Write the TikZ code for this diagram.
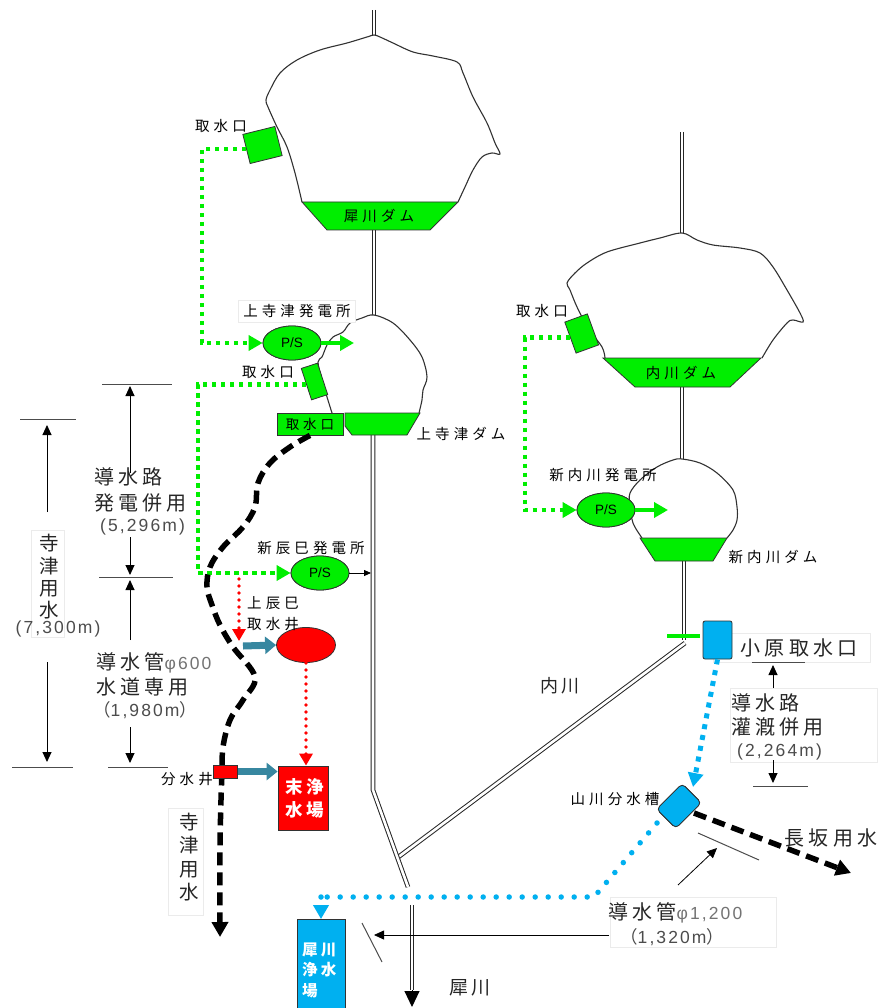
\documentclass[tikz,border=0pt]{standalone}
\usepackage{fontspec}
\usetikzlibrary{arrows.meta,shapes.geometric}
\newfontfamily\jps[LetterSpace=28]{Noto Sans CJK JP}
\newfontfamily\jpl[LetterSpace=21]{Noto Sans CJK JP}
\newfontfamily\jpp{Noto Sans CJK JP}
\newfontfamily\numf[LetterSpace=12]{Liberation Sans}
\newfontfamily\psf{Liberation Sans}
\definecolor{damgreen}{RGB}{0,238,0}
\definecolor{pipeblue}{RGB}{0,176,240}
\definecolor{feedteal}{RGB}{55,135,160}
\definecolor{inkgray}{RGB}{50,50,50}
\begin{document}
\begin{tikzpicture}[x=1pt,y=-1pt,
  river/.style={draw=black!85,line width=1pt,double=white,double distance=2.6pt},
  blob/.style={draw=inkgray,line width=1.1pt,fill=white},
  dam/.style={draw=inkgray,line width=0.8pt,fill=damgreen},
  intake/.style={draw=inkgray,line width=0.8pt,fill=damgreen,inner sep=0pt},
  station/.style={ellipse,draw=inkgray,line width=0.8pt,fill=damgreen,minimum width=58pt,minimum height=34pt,inner sep=0pt,font=\psf\fontsize{13.5}{15}\selectfont},
  gdot/.style={draw=damgreen,line width=4.5pt,dash pattern=on 4.5pt off 4.5pt},
  gtip/.style={-{Triangle[width=15pt,length=14pt,sharp]}},
  gout/.style={draw=damgreen,line width=4pt,-{Triangle[width=15pt,length=14pt]}},
  rdot/.style={draw=red,line width=3.8pt,dash pattern=on 0pt off 7pt,line cap=round},
  rtip/.style={-{Triangle[width=13pt,length=12pt,sharp]}},
  bdash/.style={draw=pipeblue,line width=5pt,dash pattern=on 5pt off 6pt},
  bdot/.style={draw=pipeblue,line width=5.5pt,dash pattern=on 0pt off 13pt,line cap=round},
  btip/.style={-{Triangle[width=15pt,length=14pt,sharp]}},
  kdash/.style={draw=black,line width=5.5pt,dash pattern=on 13pt off 7pt},
  ktip/.style={-{Triangle[width=16pt,length=15pt]}},
  dimarrow/.style={draw=black,line width=0.9pt,-{Triangle[width=9pt,length=10pt]}},
  dimtick/.style={draw=black!70,line width=1pt},
  feed/.style={draw=feedteal,line width=7pt,-{Triangle[width=17pt,length=11pt]}},
  txtframe/.style={draw=black!8,line width=0.6pt,fill=white},
  ts/.style={font=\jps\fontsize{14.5}{16}\selectfont,inner sep=0pt},
  tl/.style={font=\jpl\fontsize{20}{24}\selectfont,inner sep=0pt,text=black!85},
  tn/.style={font=\numf\fontsize{17.5}{20}\selectfont,inner sep=0pt,text=black!70},
  boxtxt/.style={font=\jpl\bfseries\fontsize{16}{21}\selectfont,text=white,inner sep=0pt,align=left},
]
\useasboundingbox[fill=white] (0,0) rectangle (877,1008);

% ---------- faint text frames ----------
\draw[txtframe] (31,530) rectangle (64,637);
\draw[txtframe] (168,808) rectangle (203,915);
\draw[txtframe] (713,633) rectangle (870,662);
\draw[txtframe] (730,688) rectangle (877,762);
\draw[txtframe] (610,897) rectangle (776,947);

% ---------- Saigawa main river ----------
\coordinate (sTop) at (374,10);
\coordinate (sRes1) at (374,35);
\coordinate (sDam1) at (374,230);
\coordinate (sRes2) at (374,315);
\coordinate (sDam2) at (373,435);
\coordinate (sBend) at (373,790);
\coordinate (sLow) at (408,887);
\coordinate (sLow2) at (412,905);
\coordinate (sLow3) at (412,990);
\coordinate (sEnd) at (412,1007);

% ---------- Uchikawa river ----------
\coordinate (uTop) at (682,132);
\coordinate (uRes3) at (682,233);
\coordinate (uDam3) at (682,387);
\coordinate (uRes4) at (682,459);
\coordinate (uDam4) at (684,561);
\coordinate (uWeir) at (684,640);
\coordinate (uSlant) at (685,643);
\coordinate (uJoin) at (397,858);
\coordinate (weirL) at (667,636);
\coordinate (weirR) at (700,636);

\draw[river] (uSlant) -- (uJoin);
\draw[river] (sTop) -- (sRes1);
\draw[river] (sDam1) -- (sRes2);
\draw[river] (sDam2) -- (sBend) -- (sLow);
\draw[river] (sLow2) -- (sLow3);
\draw[line width=1pt,-{Triangle[width=15pt,length=16pt]}] (sLow3) -- (sEnd);
\draw[river] (uTop) -- (uRes3);
\draw[river] (uDam3) -- (uRes4);
\draw[river] (uDam4) -- (uWeir);
\draw[draw=damgreen,line width=3.5pt] (weirL) -- (weirR);

% ---------- reservoirs ----------
\draw[blob] plot[smooth,tension=0.55] coordinates {(302,202) (295,173) (287,147) (277,127) (268,107) (266,100) (270,90) (280,73) (297,60) (320,50) (347,43) (367,37) (374,35) (380,37) (393,43) (413,52) (433,56) (457,62) (463,73) (473,97) (487,123) (495,143) (500,154) (492,153) (482,157) (473,170) (465,187) (458,202)};
\draw[blob] plot[smooth,tension=0.55] coordinates {(332,413) (327,397) (322,380) (318,362) (322,357) (327,345) (333,337) (343,332) (350,323) (362,318) (374,315) (393,323) (410,340) (422,357) (427,377) (423,390) (422,400) (419,413)};
\draw[blob] plot[smooth,tension=0.55] coordinates {(605,358) (602,347) (588,328) (577,307) (570,290) (567,283) (575,273) (587,263) (607,252) (640,243) (660,238) (682,233) (697,240) (713,245) (740,248) (760,253) (773,267) (787,290) (800,313) (803,322) (793,320) (787,323) (773,340) (762,358)};
\draw[blob] plot[smooth,tension=0.55] coordinates {(642,538) (633,523) (630,505) (630,493) (640,480) (657,467) (673,460) (682,459) (700,463) (717,473) (733,490) (737,507) (737,520) (733,530) (727,538)};

% ---------- dams ----------
\draw[dam] (302,202) -- (458,202) -- (430,230) -- (327,230) -- cycle;
\draw[dam] (345,413) -- (420,413) -- (407,435) -- (352,435) -- (345,426) -- cycle;
\draw[dam] (603,358) -- (761,358) -- (730,387) -- (635,387) -- cycle;
\draw[dam] (640,538) -- (727,538) -- (713,561) -- (655,561) -- cycle;
\node[ts] (damSai) at (379,216) {犀川ダム};
\node[ts] (damKami) at (461,434) {上寺津ダム};
\node[ts] (damUchi) at (681,373) {内川ダム};
\node[ts] (damShin) at (773,557) {新内川ダム};

% ---------- intakes and power stations ----------
\node[intake,minimum width=33pt,minimum height=30pt,rotate=14] (in1) at (262.5,145) {};
\node[intake,minimum width=17pt,minimum height=33pt,rotate=18] (in2) at (314.5,381.5) {};
\node[intake,minimum width=66pt,minimum height=22pt,font=\jps\fontsize{13.5}{15}\selectfont] (in3) at (310,424) {取水口};
\node[intake,minimum width=24pt,minimum height=33pt,rotate=20] (in4) at (581.7,333.5) {};

\node[station] (ps1) at (292,343) {P/S};
\node[station] (ps2) at (320,573) {P/S};
\node[station] (ps3) at (606,510) {P/S};

\coordinate (g1) at (202,343);
\coordinate (g2) at (198,573);
\coordinate (g3) at (525,510);
\draw[gdot,gtip] (in1.west) -- (in1.west -| g1) -- (g1) -- (ps1.west);
\draw[gdot,gtip] (in2.west) -- (in2.west -| g2) -- (g2) -- (ps2.west);
\draw[gdot,gtip] (in4.west) -- (in4.west -| g3) -- (g3) -- (ps3.west);
\node[station] at (ps1) {P/S};
\node[station] at (ps2) {P/S};
\node[station] at (ps3) {P/S};

\coordinate (ps1o) at (354,343);
\coordinate (ps3o) at (668,510);
\coordinate (ps2o) at (371,573);
\draw[gout] (ps1.east) -- (ps1o);
\draw[gout] (ps3.east) -- (ps3o);
\draw[line width=0.8pt,-{Triangle[width=6pt,length=7pt]}] (ps2.east) -- (ps2o);

\node[ts] (lin1) at (221,126) {取水口};
\node[ts] (lin2) at (268,372) {取水口};
\node[ts] (lin4) at (542,311) {取水口};
\node[ts,fill=white,draw=black!8,inner xsep=5pt,inner ysep=4pt] (lps1) at (297,311) {上寺津発電所};
\node[ts] (lps2) at (311,548) {新辰巳発電所};
\node[ts] (lps3) at (603,475) {新内川発電所};

% ---------- Kamitatsumi well and Sue works ----------
\node[ellipse,draw=inkgray,line width=0.8pt,fill=red,minimum width=59pt,minimum height=35pt,inner sep=0pt] (well) at (306,645) {};
\node[draw=inkgray,line width=0.8pt,fill=red,minimum width=50pt,minimum height=64pt,inner sep=0pt] (sue) at (303,798) {};
\node[boxtxt,font=\jpl\bfseries\fontsize{17.5}{23}\selectfont,align=center] (suet) at (305,798.5) {末浄\\水場};
\node[draw=inkgray,line width=0.8pt,fill=red,minimum width=24pt,minimum height=13pt,inner sep=0pt] (bun) at (225,771.5) {};

\coordinate (r1) at (239,579);
\coordinate (r2) at (239,641);
\draw[rdot,rtip] (r1) -- (r2);
\draw[rdot,rtip] (well.south) -- (well.south |- sue.north);
\coordinate (f1) at (243,646);
\draw[feed] (f1) -- (well.west);
\draw[feed] (bun.east) -- (bun.east -| sue.west);

\node[ts,anchor=west] (lkt1) at (247,603) {上辰巳};
\node[ts,anchor=west] (lkt2) at (247,624) {取水井};
\node[ts] (lbun) at (187,779) {分水井};

% ---------- Terazu canal (black dashed) ----------
\draw[kdash,ktip] plot[smooth,tension=0.6] coordinates {(in3.south) (290,447) (270,463) (258,483) (255,507) (243,527) (223,547) (210,567) (207,587) (212,605) (220,625) (233,647) (255,677) (243,700) (230,720) (223,747) (222,773) (221,800) (220,850) (220,937)};
\node[draw=inkgray,line width=0.8pt,fill=red,minimum width=24pt,minimum height=13pt,inner sep=0pt] at (bun) {};
\node[tl,font=\jpl\fontsize{19.5}{23.3}\selectfont,align=center] (lter2) at (189,857) {寺\\津\\用\\水};

% ---------- left dimensions ----------
\coordinate (a1) at (47,512); \coordinate (a2) at (47,425);
\coordinate (a3) at (47,662); \coordinate (a4) at (47,762);
\coordinate (t1a) at (20,419); \coordinate (t1b) at (76,419);
\coordinate (t2a) at (12,767); \coordinate (t2b) at (73,767);
\draw[dimarrow] (a1) -- (a2);
\draw[dimarrow] (a3) -- (a4);
\draw[dimtick] (t1a) -- (t1b);
\draw[dimtick] (t2a) -- (t2b);
\node[tl,font=\jpl\fontsize{19.5}{22.3}\selectfont,align=center] (lter1) at (49,577) {寺\\津\\用\\水};
\node[tn] (lter1n) at (58,629) {(7,300m)};

\coordinate (b1) at (130,473); \coordinate (b2) at (130,386);
\coordinate (b3) at (130,537); \coordinate (b4) at (130,575);
\coordinate (b5) at (130,640); \coordinate (b6) at (130,580);
\coordinate (b7) at (130,727); \coordinate (b8) at (130,763);
\coordinate (u1a) at (102,384); \coordinate (u1b) at (172,384);
\coordinate (u2a) at (99,577); \coordinate (u2b) at (173,577);
\coordinate (u3a) at (108,767); \coordinate (u3b) at (168,767);
\draw[dimarrow] (b1) -- (b2);
\draw[dimarrow] (b3) -- (b4);
\draw[dimarrow] (b5) -- (b6);
\draw[dimarrow] (b7) -- (b8);
\draw[dimtick] (u1a) -- (u1b);
\draw[dimtick] (u2a) -- (u2b);
\draw[dimtick] (u3a) -- (u3b);
\node[tl,anchor=west] (ld1) at (94,477) {導水路};
\node[tl,anchor=west] (ld2) at (94,503) {発電併用};
\node[tn,anchor=west] (ld3) at (100,527) {(5,296m)};
\node[tl,anchor=west] (ld4) at (96,663) {導水管{\numf\fontsize{17.5}{20}\selectfont\color{black!55}φ600}};
\node[tl,anchor=west] (ld5) at (96,687) {水道専用};
\node[tn,anchor=west] (ld6) at (93,710) {{\jpp （}1,980m{\jpp ）}};

% ---------- Ohara intake and Yamakawa tank ----------
\node[draw=inkgray,line width=0.8pt,fill=pipeblue,rounded corners=2pt,minimum width=29pt,minimum height=38pt,inner sep=0pt] (ohara) at (717.5,640) {};
\node[draw=inkgray,line width=0.8pt,fill=pipeblue,rounded corners=4pt,minimum width=36pt,minimum height=27pt,inner sep=0pt,rotate=45] (yama) at (679,806) {};
\node[draw=inkgray,line width=0.8pt,fill=pipeblue,minimum width=48pt,minimum height=95pt,inner sep=0pt] (saiw) at (321,967) {};
\node[boxtxt,font=\jpl\bfseries\fontsize{15.5}{20.5}\selectfont,anchor=west] (saiwt) at (302,970) {犀川\\浄水\\場};

\coordinate (yTop) at (693,787);
\coordinate (yOut) at (657,823);
\coordinate (yDrop) at (594,897);
\coordinate (yLeft) at (321,897);
\coordinate (yEast) at (694,813);
\coordinate (naga) at (851,873);
\draw[bdash,btip] (ohara.south) -- (yTop);
\draw[bdot] (yOut) -- (yDrop) -- (yLeft);
\draw[bdot,btip] (yLeft) -- (saiw.north);
\draw[kdash,ktip] (yEast) -- (naga);
\node[draw=inkgray,line width=0.8pt,fill=pipeblue,rounded corners=4pt,minimum width=36pt,minimum height=27pt,inner sep=0pt,rotate=45] at (yama) {};

\node[ts] (lyama) at (615,799) {山川分水槽};
\node[tl] (lnaga) at (831,838) {長坂用水};
\node[tl] (lohara) at (799,648) {小原取水口};
\node[tl,font=\jpl\fontsize{18}{20}\selectfont] (luchi) at (560,686) {内川};
\node[tl,font=\jpl\fontsize{19}{20}\selectfont] (lsai) at (470,988) {犀川};

% ---------- right dimensions ----------
\coordinate (c1) at (773,688); \coordinate (c2) at (773,665);
\coordinate (c3) at (773,760); \coordinate (c4) at (773,783);
\coordinate (v1a) at (752,662); \coordinate (v1b) at (805,662);
\coordinate (v2a) at (753,786); \coordinate (v2b) at (808,786);
\draw[dimarrow] (c1) -- (c2);
\draw[dimarrow] (c3) -- (c4);
\draw[dimtick] (v1a) -- (v1b);
\draw[dimtick] (v2a) -- (v2b);
\node[tl,anchor=west] (rd1) at (731,703) {導水路};
\node[tl,anchor=west] (rd2) at (731,727) {灌漑併用};
\node[tn,anchor=west] (rd3) at (737,752) {(2,264m)};

\coordinate (d1) at (678,885); \coordinate (d2) at (717,848);
\coordinate (w1a) at (698,833); \coordinate (w1b) at (759,860);
\coordinate (d3) at (609,935); \coordinate (d4) at (374,935);
\coordinate (w2a) at (362,923); \coordinate (w2b) at (382,962);
\draw[dimarrow,line width=0.8pt] (d1) -- (d2);
\draw[dimtick] (w1a) -- (w1b);
\draw[dimarrow,line width=0.8pt] (d3) -- (d4);
\draw[dimtick] (w2a) -- (w2b);
\node[tl,anchor=west] (pd1) at (608,913) {導水管{\numf\fontsize{17.5}{20}\selectfont\color{black!55}φ1,200}};
\node[tn,anchor=west] (pd2) at (620,937) {{\jpp （}1,320m{\jpp ）}};
\end{tikzpicture}
\end{document}
